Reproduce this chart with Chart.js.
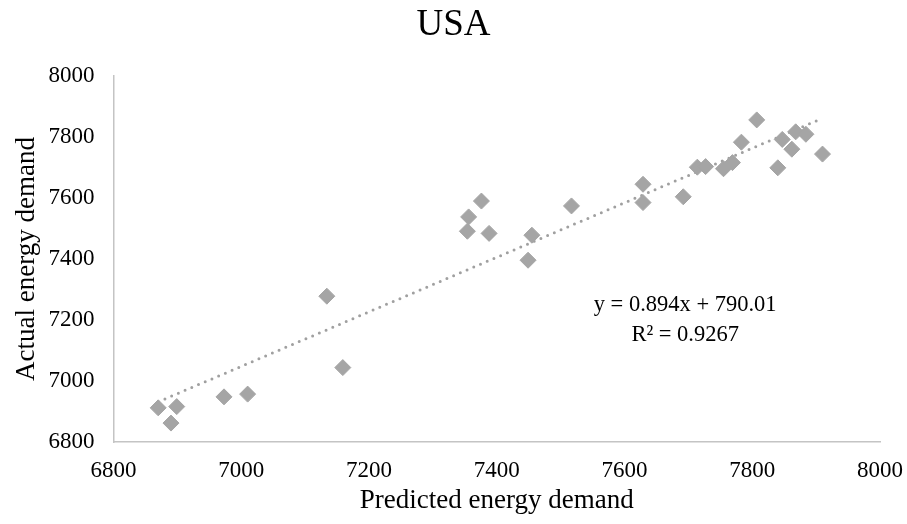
<!DOCTYPE html>
<html>
<head>
<meta charset="utf-8">
<script src="https://cdn.jsdelivr.net/npm/chart.js@4/dist/chart.umd.min.js"></script>
<style>
  html, body { margin: 0; padding: 0; background: #fff; }
  #wrap { width: 907px; height: 524px; }
</style>
</head>
<body>
<div id="wrap"><canvas id="grafica"></canvas></div>
<script>
// predicted vs actual demand
const predicted = [6870, 6899, 6890, 6973, 7010, 7134, 7159, 7376, 7356, 7354,
    7388, 7455, 7449, 7517, 7629, 7629, 7692, 7714, 7727, 7755,
    7769, 7783, 7807, 7840, 7847, 7862, 7868, 7884, 7910];
const actual = [6912, 6916, 6862, 6948, 6957, 7278, 7044, 7590, 7538, 7491,
    7484, 7478, 7396, 7574, 7645, 7585, 7604, 7701, 7703, 7696,
    7716, 7783, 7856, 7699, 7792, 7760, 7817, 7809, 7744];
const axisTicks = [6800, 7000, 7200, 7400, 7600, 7800, 8000];

// linear trendline
const slope = 0.894;
const intercept = 790.01;
const rSquared = 0.9267;

const puntos = predicted.map((x, i) => ({ x, y: actual[i] }));
const xMin = Math.min(...predicted);
const xMax = Math.max(...predicted);
const tendencia = [xMin, xMax].map((x) => ({ x, y: slope * x + intercept }));

const serif = "'Liberation Serif', 'Times New Roman', serif";
const gris = "#a5a5a5";

// title centred on the canvas, equation next to the trendline
const textos = {
    id: "textos",
    afterDatasetsDraw(chart) {
        const { ctx, scales, width } = chart;
        ctx.save();
        ctx.fillStyle = "#000";
        ctx.textAlign = "center";
        ctx.textBaseline = "middle";
        ctx.font = "37px " + serif;
        ctx.fillText("USA", width / 2, 25);

        const cx = scales.x.getPixelForValue(7695);
        const cy = scales.y.getPixelForValue(7200);
        ctx.font = "22.5px " + serif;
        ctx.fillText("y = " + slope + "x + " + intercept.toFixed(2), cx, cy - 15);
        ctx.fillText("R\u00b2 = " + rSquared, cx, cy + 15);
        ctx.restore();
    },
};

const tickFont = { family: serif, size: 23 };
const plain = (v) => String(v);

new Chart(document.getElementById("grafica"), {
    type: "scatter",
    data: {
        datasets: [
            {
                label: "Actual",
                data: puntos,
                pointStyle: "rectRot",
                pointRadius: 8,
                pointBorderWidth: 1,
                backgroundColor: gris,
                borderColor: gris,
                order: 1,
            },
            {
                label: "Linear",
                data: tendencia,
                showLine: true,
                pointRadius: 0,
                borderColor: "#a0a0a0",
                borderWidth: 3,
                borderDash: [0, 7.3],
                borderCapStyle: "round",
                order: 2,
            },
        ],
    },
    options: {
        responsive: true,
        maintainAspectRatio: false,
        animation: false,
        layout: { padding: { left: 0, right: 27, top: 76, bottom: 0 } },
        scales: {
            x: {
                min: 6800,
                max: 8000,
                afterBuildTicks: (s) => { s.ticks = axisTicks.map((v) => ({ value: v })); },
                afterFit: (s) => {
                    s.height = 82;
                    s.paddingLeft = 0;
                    s.paddingRight = 0;
                },
                grid: { display: false, drawTicks: false },
                border: { display: true, color: "#c4c4c4", width: 1.5 },
                ticks: { color: "#000", font: tickFont, padding: 15, callback: plain },
                title: {
                    display: true,
                    text: "Predicted energy demand",
                    color: "#000",
                    font: { family: serif, size: 27 },
                    padding: { top: 0, bottom: 7 },
                },
            },
            y: {
                min: 6800,
                max: 8000,
                afterBuildTicks: (s) => { s.ticks = axisTicks.map((v) => ({ value: v })); },
                afterFit: (s) => { s.width = 113.5; },
                grid: { display: false, drawTicks: false },
                border: { display: true, color: "#c4c4c4", width: 1.5 },
                ticks: { color: "#000", font: tickFont, padding: 19, callback: plain },
                title: {
                    display: true,
                    text: "Actual energy demand",
                    color: "#000",
                    font: { family: serif, size: 27 },
                    padding: { top: 11, bottom: 0 },
                },
            },
        },
        plugins: {
            legend: { display: false },
            tooltip: { enabled: false },
            title: { display: false },
        },
    },
    plugins: [textos],
});
</script>
</body>
</html>
